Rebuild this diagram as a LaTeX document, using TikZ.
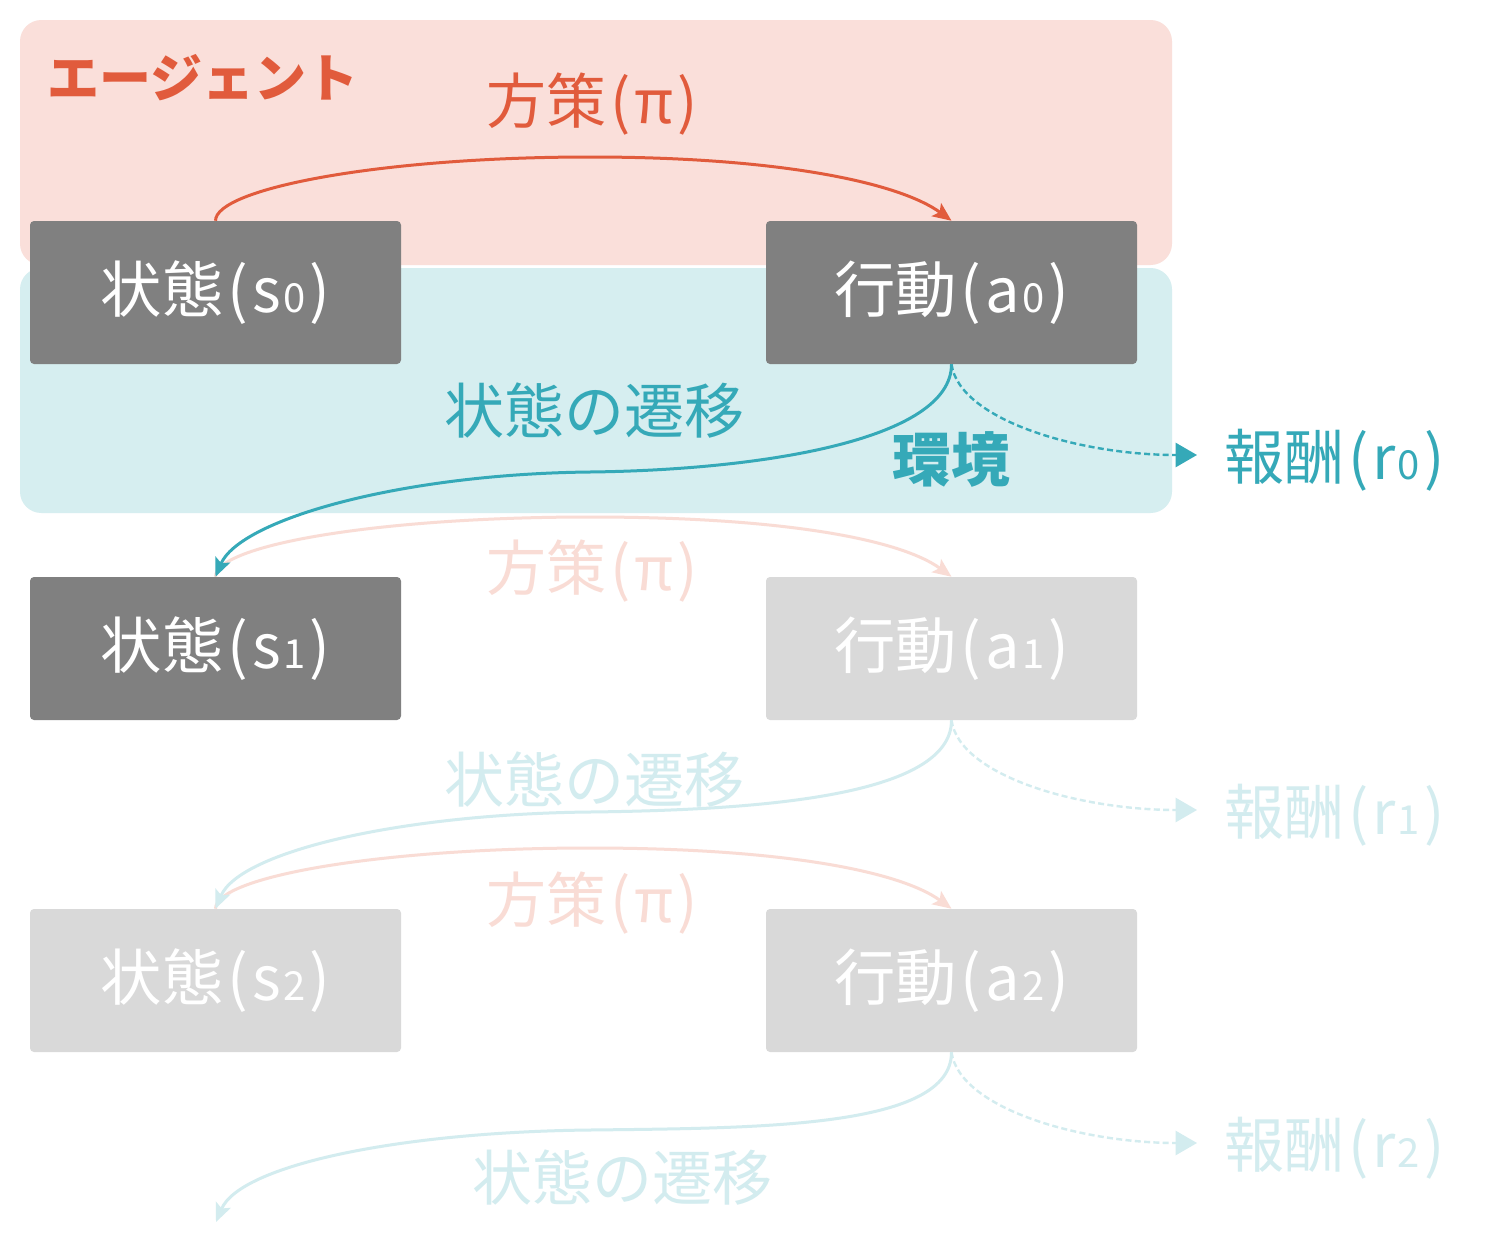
\documentclass[tikz,border=0pt]{standalone}
\usepackage{fontspec}
\setmainfont{Noto Sans CJK JP}
\usetikzlibrary{arrows.meta}
\definecolor{orng}{HTML}{E15B3C}
\definecolor{teal}{HTML}{35A9B8}
\definecolor{pinkbg}{HTML}{FADFDA}
\definecolor{cyanbg}{HTML}{D6EEF0}
\definecolor{dgray}{HTML}{808080}
\definecolor{lgray}{HTML}{D9D9D9}
\definecolor{fpink}{HTML}{F9DCD5}
\definecolor{fcyan}{HTML}{D3ECEF}
\newcommand\dsub[1]{\kern1.5pt{\fontsize{30pt}{30pt}\selectfont #1}}
\newcommand\lpr{\kern3pt(\kern3pt}
\newcommand\rpr{\kern3pt)}
\begin{document}
\begin{tikzpicture}[x=0.75pt,y=-0.75pt,
  stbox/.style={rectangle, rounded corners=3pt, inner sep=0pt,
    minimum width=278.25pt, minimum height=107.25pt, text=white,
    font=\fontsize{46pt}{50pt}\selectfont},
  lbl/.style={inner sep=0pt, font=\fontsize{45pt}{50pt}\selectfont},
  pol/.style={line width=2.25pt, -{Stealth[length=14pt,width=12pt,inset=3pt]}},
  trn/.style={line width=2.25pt, -{Stealth[length=14pt,width=12pt,inset=3pt]}},
  rew/.style={line width=1.8pt, dash pattern=on 4.5pt off 2.5pt, -{Triangle[length=16pt,width=18pt]}}
]
\useasboundingbox (0,0) rectangle (1510,1242);
\fill[white] (0,0) rectangle (1510,1242);

% panels
\fill[pinkbg, rounded corners=16pt] (20,20) rectangle (1172,265);
\fill[cyanbg, rounded corners=16pt] (20,268) rectangle (1172,513);

% boxes
\node[stbox, fill=dgray] (s0) at (215.5,292.5) {状態\lpr s\dsub0\rpr};
\node[stbox, fill=dgray] (a0) at (951.5,292.5) {行動\lpr a\dsub0\rpr};
\node[stbox, fill=dgray] (s1) at (215.5,648.5) {状態\lpr s\dsub1\rpr};
\node[stbox, fill=lgray] (a1) at (951.5,648.5) {行動\lpr a\dsub1\rpr};
\node[stbox, fill=lgray] (s2) at (215.5,980.5) {状態\lpr s\dsub2\rpr};
\node[stbox, fill=lgray] (a2) at (951.5,980.5) {行動\lpr a\dsub2\rpr};

% labels
\node[inner sep=0pt, text=orng, font=\fontsize{39pt}{43pt}\selectfont\bfseries] (agent) at (203,78) {エージェント};
\node[lbl, text=orng] (pol0) at (592,104) {方策\lpr π\rpr};
\node[lbl, text=teal] (trn0) at (594,411) {状態の遷移};
\node[inner sep=0pt, text=teal, font=\fontsize{44pt}{48pt}\selectfont\bfseries] (env) at (951,459) {環境};
\node[lbl, text=teal, anchor=west] (rw0) at (1224,460) {報酬\lpr r\dsub0\rpr};

\node[lbl, text=fpink] (pol1) at (592,571) {方策\lpr π\rpr};
\node[lbl, text=fcyan] (trn1) at (594,780) {状態の遷移};
\node[lbl, text=fcyan, anchor=west] (rw1) at (1224,815) {報酬\lpr r\dsub1\rpr};
\node[lbl, text=fpink] (pol2) at (592,903) {方策\lpr π\rpr};
\node[lbl, text=fcyan] (trn2) at (622,1178) {状態の遷移};
\node[lbl, text=fcyan, anchor=west] (rw2) at (1224,1148) {報酬\lpr r\dsub2\rpr};

% helper coordinates
\coordinate (p0) at (590,157);
\coordinate (t0) at (590,472);
\coordinate (r0) at (1197,455);
\coordinate (p1) at (590,517);
\coordinate (t1) at (590,812);
\coordinate (r1) at (1197,810);
\coordinate (p2) at (590,848);
\coordinate (t2) at (590,1130);
\coordinate (r2) at (1197,1143);
\coordinate (e2) at (216,1222);

% faded connectors
\draw[pol, fpink] (s1.north) .. controls +(0,-32) and +(-210,0) .. (p1) .. controls +(190,0) and +(-52,-38) .. (a1.north);
\draw[pol, fpink] (s2.north) .. controls +(0,-32) and +(-210,0) .. (p2) .. controls +(190,0) and +(-52,-38) .. (a2.north);
\draw[trn, fcyan] (a1.south) .. controls +(0,76) and +(170,-2) .. (t1) .. controls +(-190,2) and +(24,-57) .. (s2.north);
\draw[trn, fcyan] (a2.south) .. controls +(0,76) and +(170,-2) .. (t2) .. controls +(-190,2) and +(24,-57) .. (e2);
\draw[rew, fcyan] (a1.south) .. controls +(8,56) and +(-117,0) .. (r1);
\draw[rew, fcyan] (a2.south) .. controls +(8,56) and +(-117,0) .. (r2);

% main connectors
\draw[pol, orng] (s0.north) .. controls +(0,-32) and +(-210,0) .. (p0) .. controls +(190,0) and +(-52,-38) .. (a0.north);
\draw[trn, teal] (a0.south) .. controls +(0,76) and +(170,-2) .. (t0) .. controls +(-190,2) and +(24,-57) .. (s1.north);
\draw[rew, teal] (a0.south) .. controls +(8,56) and +(-117,0) .. (r0);
\end{tikzpicture}
\end{document}
